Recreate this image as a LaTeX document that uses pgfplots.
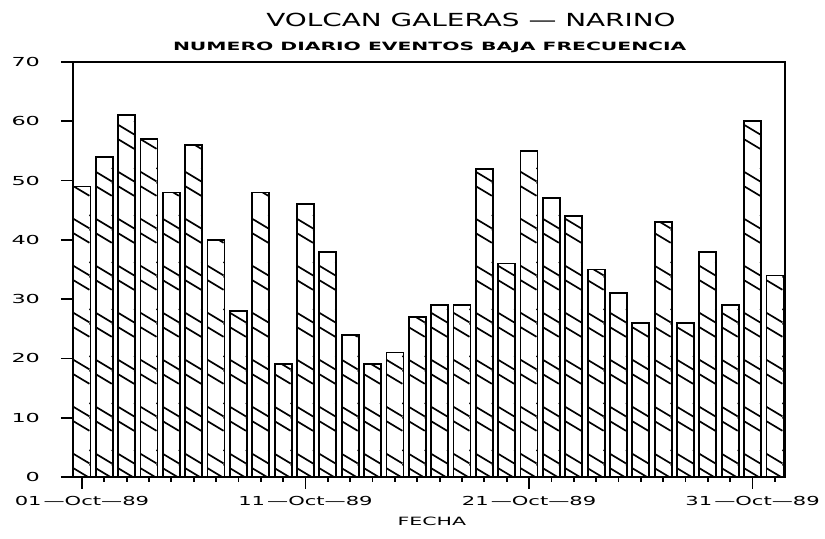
\documentclass[border=0pt]{standalone}
\usepackage{pgfplots}
\pgfplotsset{compat=1.18}
\usetikzlibrary{patterns.meta}
\usepackage{fontspec}
\setmainfont{DejaVu Sans}
\newfontfamily\plotfont{DejaVu Sans}[FakeStretch=1.8]
\newfontfamily\xfont{DejaVu Sans}[FakeStretch=1.7]
\newfontfamily\subfont{DejaVu Sans}[FakeStretch=1.78]
\newfontfamily\titlefont{DejaVu Sans}[FakeStretch=1.55]

\tikzdeclarepattern{
  name=galhatch,
  type=colored,
  bottom left={(-0.5pt,-0.5pt)},
  top right={(11.68pt,24pt)},
  tile size={(11.1774pt,23.5pt)},
  code={
    \draw[black, line width=0.85pt] (0pt,21pt) -- (11.1774pt,14.3pt);
    \draw[black, line width=0.85pt] (0pt,13.8pt) -- (11.1774pt,7.1pt);
  }
}

\begin{document}
\begin{tikzpicture}
\begin{axis}[
  scale only axis, width=356pt, height=207.5pt,
  xmin=0.6, xmax=32.45, ymin=0, ymax=70,
  ytick={0,10,...,70},
  xtick={1,11,21,31},
  xticklabels={01\,—Oct—89, 11\,—Oct—89, 21\,—Oct—89, 31\,—Oct—89},
  minor xtick={1,...,32},
  tick align=outside,
  xtick pos=left, ytick pos=left,
  major tick length=6pt, minor tick length=2.5pt,
  axis line style={line width=1pt},
  every tick/.style={black, line width=0.9pt},
  ybar, bar width=8.5pt,
  ticklabel style={font=\plotfont\fontsize{6.2}{7}\selectfont},
  yticklabel style={xshift=-7pt},
  xticklabel style={font=\xfont\fontsize{6.2}{7}\selectfont},
  /pgf/number format/assume math mode=true,
  clip=false,
]
\addplot[draw=black, line width=0.9pt, pattern=galhatch] coordinates {
(1,49) (2,54) (3,61) (4,57) (5,48) (6,56) (7,40) (8,28) (9,48) (10,19)
(11,46) (12,38) (13,24) (14,19) (15,21) (16,27) (17,29) (18,29) (19,52) (20,36)
(21,55) (22,47) (23,44) (24,35) (25,31) (26,26) (27,43) (28,26) (29,38) (30,29)
(31,60) (32,34)
};
\node[yshift=21pt, font=\titlefont\fontsize{9}{10}\selectfont] at (axis description cs:0.559,1) {VOLCAN GALERAS — NARINO};
\node[yshift=7.5pt, font=\subfont\bfseries\fontsize{5.7}{6}\selectfont] at (axis description cs:0.501,1) {NUMERO DIARIO EVENTOS BAJA FRECUENCIA};
\node[yshift=-22pt, font=\plotfont\fontsize{5.7}{6}\selectfont] at (axis description cs:0.504,0) {FECHA};
\coordinate (SW) at (rel axis cs:0,0);
\coordinate (NE) at (rel axis cs:1,1);
\end{axis}
\pgfresetboundingbox
\path[use as bounding box] ([shift={(-36.5pt,-31pt)}]SW) rectangle ([shift={(20pt,31pt)}]NE);
\end{tikzpicture}
\end{document}
